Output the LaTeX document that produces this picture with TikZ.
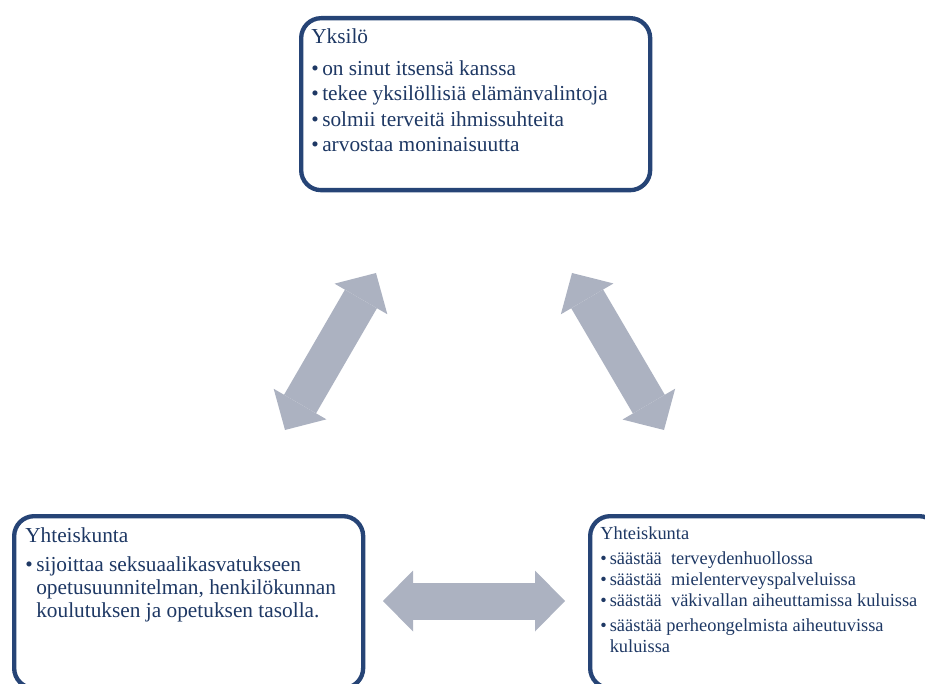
\documentclass[tikz,border=0pt]{standalone}
\usepackage{fontspec}
\setmainfont{Liberation Serif}
\newfontfamily\boxfont{Liberation Serif}
\usetikzlibrary{arrows.meta}
\definecolor{boxblue}{RGB}{38,68,118}
\definecolor{txtblue}{RGB}{30,56,100}
\definecolor{arrowgray}{RGB}{172,178,193}
\newcommand{\bul}{\textbullet\,}
\newcommand{\bulind}{\hphantom{\textbullet\,}}
\tikzset{
  boxframe/.style={draw=boxblue, line width=3.25pt, rounded corners=15pt, fill=white,
    anchor=north west, inner sep=0pt, minimum width=261.75pt, minimum height=129pt},
  boxtext/.style={anchor=north west, inner sep=0pt, align=left, text=txtblue},
  bigtip/.tip={Triangle[length=22.5pt,width=45.75pt,line width=0pt]},
  bigarrow/.style={draw=arrowgray, line width=27.75pt, bigtip-bigtip},
}
\begin{document}
\begin{tikzpicture}[x=0.75pt,y=0.75pt,yscale=-1,xscale=1]
\useasboundingbox (0,0) rectangle (925,684);
\clip (0,0) rectangle (925,684);

% boxes
\node[boxframe] (yksilo) at (299,16) {};
\node[boxframe] (yhteisoL) at (12,514) {};
\node[boxframe] (yhteisoR) at (588,514) {};

% Text Node
\node[boxtext, font=\boxfont\fontsize{16}{19}\selectfont] (yksiloText) at (311,28.5)
  {Yksilö\\[5pt]
   \bul on sinut itsensä kanssa\\
   \bul tekee yksilöllisiä elämänvalintoja\\
   \bul solmii terveitä ihmissuhteita\\
   \bul arvostaa moninaisuutta};
% Text Node
\node[boxtext, font=\boxfont\fontsize{16}{17}\selectfont] (yhteisoLText) at (25,527.5)
  {Yhteiskunta\\[5pt]
   \bul sijoittaa seksuaalikasvatukseen\\
   \bulind opetusuunnitelman, henkilökunnan\\
   \bulind koulutuksen ja opetuksen tasolla.};
% Text Node
\node[boxtext, font=\boxfont\fontsize{13.8}{15.6}\selectfont] (yhteisoRText) at (600,526)
  {Yhteiskunta\\[3.5pt]
   \bul säästää\ \ terveydenhuollossa\\
   \bul säästää\ \ mielenterveyspalveluissa\\
   \bul säästää\ \ väkivallan aiheuttamissa kuluissa\\[3.5pt]
   \bul säästää perheongelmista aiheutuvissa\\
   \bulind kuluissa};

% arrows
\coordinate (leftLow) at (285,430);
\coordinate (leftHigh) at (376,273);
\coordinate (rightHigh) at (572,273);
\coordinate (rightLow) at (664,430);
\coordinate (midLeft) at (383,601);
\coordinate (midRight) at (565,601);
\draw[bigarrow] (leftLow) -- (leftHigh);
\draw[bigarrow] (rightHigh) -- (rightLow);
\draw[bigarrow] (midLeft) -- (midRight);
\end{tikzpicture}
\end{document}
